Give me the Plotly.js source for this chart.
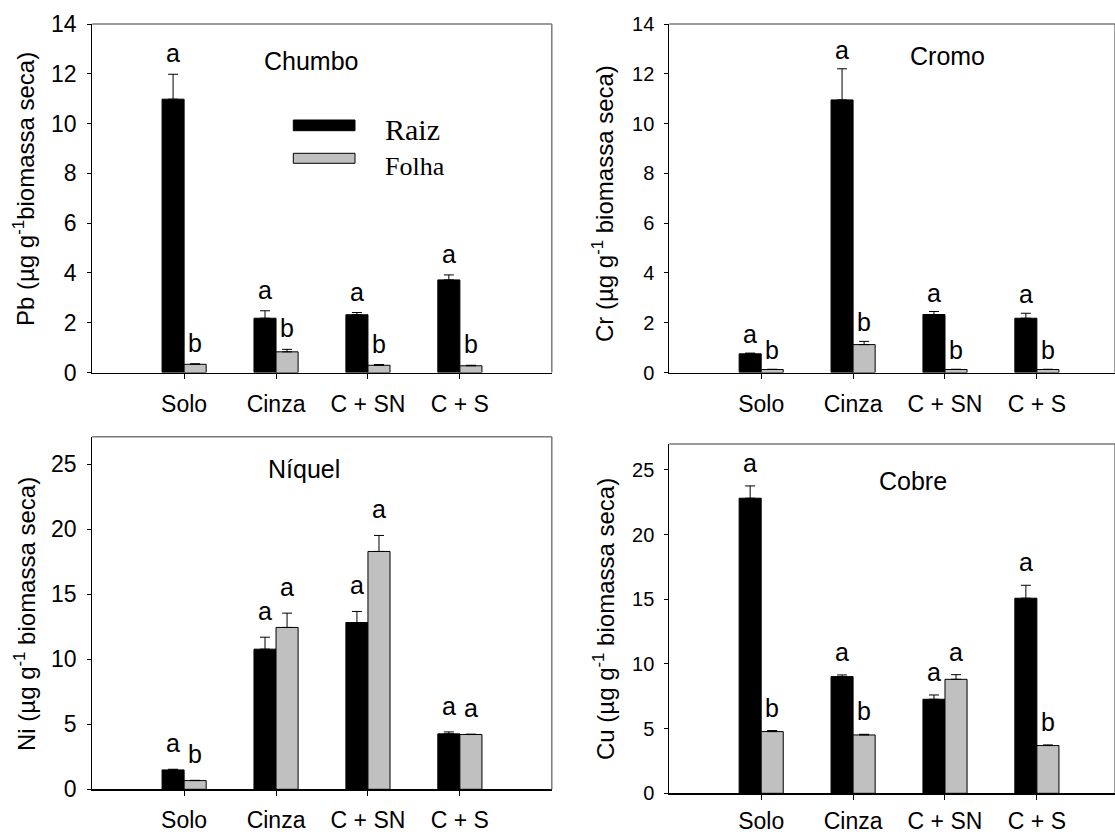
<!DOCTYPE html>
<html><head><meta charset="utf-8">
<script src="https://cdn.plot.ly/plotly-3.0.1.min.js"></script>
<style>html,body{margin:0;padding:0;background:#fff;}#c{width:1115px;height:834px;}</style>
</head><body><div id="c"></div>
<script>
const categories = ["Solo", "Cinza", "C + SN", "C + S"];
const seriesNames = ["Raiz", "Folha"];

// Pb (Chumbo)
const pbRaiz = [10.98, 2.18, 2.32, 3.72];
const pbRaizErr = [1.0, 0.3, 0.09, 0.2];
const pbFolha = [0.33, 0.83, 0.29, 0.27];
const pbFolhaErr = [0.02, 0.1, 0.03, 0.02];
const pbLetRaiz = ["a", "a", "a", "a"];
const pbLetFolha = ["b", "b", "b", "b"];

// Cr (Cromo)
const crRaiz = [0.75, 10.95, 2.33, 2.18];
const crRaizErr = [0.03, 1.25, 0.12, 0.2];
const crFolha = [0.12, 1.12, 0.12, 0.12];
const crFolhaErr = [0.01, 0.13, 0.01, 0.01];
const crLetRaiz = ["a", "a", "a", "a"];
const crLetFolha = ["b", "b", "b", "b"];

// Ni (Níquel)
const niRaiz = [1.49, 10.77, 12.82, 4.26];
const niRaizErr = [0.05, 0.92, 0.85, 0.15];
const niFolha = [0.67, 12.44, 18.28, 4.21];
const niFolhaErr = [0.02, 1.1, 1.23, 0.03];
const niLetRaiz = ["a", "a", "a", "a"];
const niLetFolha = ["b", "a", "a", "a"];

// Cu (Cobre)
const cuRaiz = [22.81, 9.02, 7.27, 15.08];
const cuRaizErr = [0.95, 0.13, 0.33, 1.0];
const cuFolha = [4.77, 4.51, 8.81, 3.69];
const cuFolhaErr = [0.08, 0.05, 0.36, 0.05];
const cuLetRaiz = ["a", "a", "a", "a"];
const cuLetFolha = ["b", "b", "a", "b"];

const panelNames = ["Chumbo", "Cromo", "Níquel", "Cobre"];
const yTitles = [
  "Pb (µg g<sup>-1</sup>biomassa seca)",
  "Cr (µg g<sup>-1</sup> biomassa seca)",
  "Ni (µg g<sup>-1</sup> biomassa seca)",
  "Cu (µg g<sup>-1</sup> biomassa seca)"
];

const W = 1115, H = 834;
const FONT = "Liberation Sans, Arial, sans-serif";
const SERIF = "Liberation Serif, Times New Roman, serif";
const px = v => v / W, py = v => 1 - v / H;

const panels = [
  {r: pbRaiz, re: pbRaizErr, f: pbFolha, fe: pbFolhaErr, lr: pbLetRaiz, lf: pbLetFolha,
   xd: [92.2, 551.8], yd: [24, 372.5], xr: [-1, 4], yr: [0, 14], dt: 2, yfs: 23, gap: 10, xso: 5,
   name: [311.6, 61], yt: [24, 189]},
  {r: crRaiz, re: crRaizErr, f: crFolha, fe: crFolhaErr, lr: crLetRaiz, lf: crLetFolha,
   xd: [669.3, 1115], yd: [24, 372.5], xr: [-1, 3.85], yr: [0, 14], dt: 2, yfs: 20, gap: 8, xso: 5,
   name: [947, 56], yt: [603, 204]},
  {r: niRaiz, re: niRaizErr, f: niFolha, fe: niFolhaErr, lr: niLetRaiz, lf: niLetFolha,
   xd: [92.2, 551.8], yd: [436.7, 789.3], xr: [-1, 4], yr: [0, 27.1], dt: 5, yfs: 23, gap: 15, xso: 5,
   name: [304, 469], yt: [25, 614]},
  {r: cuRaiz, re: cuRaizErr, f: cuFolha, fe: cuFolhaErr, lr: cuLetRaiz, lf: cuLetFolha,
   xd: [669.3, 1115], yd: [444, 793.3], xr: [-1, 3.85], yr: [0, 27], dt: 5, yfs: 20, gap: 12, xso: 2,
   name: [913, 481], yt: [604, 619]}
];

const data = [], annotations = [], shapes = [];
const layout = {
  width: W, height: H, margin: {l: 0, r: 0, t: 0, b: 0},
  paper_bgcolor: "#fff", plot_bgcolor: "rgba(0,0,0,0)",
  barmode: "group", bargap: 0.52, bargroupgap: 0, showlegend: false,
  font: {family: FONT, color: "#000"}
};

panels.forEach((p, k) => {
  const n = k + 1;
  const xa = n === 1 ? "x" : "x" + n, ya = n === 1 ? "y" : "y" + n;
  const zeros = [0, 0, 0, 0];
  data.push({type: "bar", x: categories, y: p.r, name: seriesNames[0], xaxis: xa, yaxis: ya,
    marker: {color: "#000", line: {color: "#000", width: 1}},
    error_y: {type: "data", array: p.re, arrayminus: zeros, symmetric: false, color: "#000", thickness: 1, width: 5},
    hoverinfo: "skip"});
  data.push({type: "bar", x: categories, y: p.f, name: seriesNames[1], xaxis: xa, yaxis: ya,
    marker: {color: "#c0c0c0", line: {color: "#000", width: 1}},
    error_y: {type: "data", array: p.fe, arrayminus: zeros, symmetric: false, color: "#000", thickness: 1, width: 5},
    hoverinfo: "skip"});

  layout["xaxis" + (n === 1 ? "" : n)] = {
    domain: [px(p.xd[0]), Math.min(1, px(p.xd[1]))], anchor: ya, range: p.xr,
    type: "category", showline: true, linecolor: "#000", linewidth: 1.5,
    ticks: "outside", ticklen: 5, tickcolor: "#000", tickwidth: 1,
    showgrid: false, zeroline: false, fixedrange: true,
    tickfont: {family: FONT, size: 23, color: "#000"}, ticklabelstandoff: p.xso
  };
  layout["yaxis" + (n === 1 ? "" : n)] = {
    domain: [py(p.yd[1]), py(p.yd[0])], anchor: xa, range: p.yr, dtick: p.dt, tick0: 0,
    showline: true, linecolor: "#000", linewidth: 1,
    ticks: "outside", ticklen: 4, tickcolor: "#000", tickwidth: 1,
    showgrid: false, zeroline: false, fixedrange: true,
    tickfont: {family: FONT, size: p.yfs, color: "#000"}, ticklabelstandoff: 6
  };

  // frame (top and right) in gray
  shapes.push({type: "line", xref: xa + " domain", yref: ya + " domain", x0: 0, x1: 1, y0: 1, y1: 1,
    line: {color: "#7a7a7a", width: 1.5}});
  shapes.push({type: "line", xref: xa + " domain", yref: ya + " domain", x0: 1, x1: 1, y0: 0, y1: 1,
    line: {color: "#7a7a7a", width: 1.5}});

  // significance letters
  categories.forEach((c, i) => {
    annotations.push({xref: xa, yref: ya, x: i - 0.12, y: p.r[i] + p.re[i], text: p.lr[i],
      showarrow: false, yanchor: "bottom", yshift: p.gap - 5, font: {family: FONT, size: 25, color: "#000"}});
    annotations.push({xref: xa, yref: ya, x: i + 0.12, y: p.f[i] + p.fe[i], text: p.lf[i],
      showarrow: false, yanchor: "bottom", yshift: p.gap - 5, font: {family: FONT, size: 25, color: "#000"}});
  });

  // panel name
  annotations.push({xref: "paper", yref: "paper", x: px(p.name[0]), y: py(p.name[1]), text: panelNames[k],
    showarrow: false, xanchor: "center", yanchor: "middle", font: {family: FONT, size: 25, color: "#000"}});
  // y title
  annotations.push({xref: "paper", yref: "paper", x: px(p.yt[0]), y: py(p.yt[1]), text: yTitles[k],
    textangle: -90, showarrow: false, xanchor: "center", yanchor: "middle", font: {family: FONT, size: 24, color: "#000"}});
});

// legend (first panel)
shapes.push({type: "rect", xref: "paper", yref: "paper", x0: px(293.3), x1: px(355), y0: py(130.7), y1: py(120),
  fillcolor: "#000", line: {color: "#000", width: 1}});
shapes.push({type: "rect", xref: "paper", yref: "paper", x0: px(293.3), x1: px(355), y0: py(163.3), y1: py(153.3),
  fillcolor: "#c0c0c0", line: {color: "#000", width: 1}});
annotations.push({xref: "paper", yref: "paper", x: px(383), y: py(129), text: seriesNames[0], showarrow: false,
  xanchor: "left", yanchor: "middle", font: {family: SERIF, size: 30, color: "#000"}});
annotations.push({xref: "paper", yref: "paper", x: px(383), y: py(166), text: seriesNames[1], showarrow: false,
  xanchor: "left", yanchor: "middle", font: {family: SERIF, size: 26, color: "#000"}});

layout.annotations = annotations;
layout.shapes = shapes;

Plotly.newPlot("c", data, layout, {displayModeBar: false, staticPlot: true});
</script></body></html>
